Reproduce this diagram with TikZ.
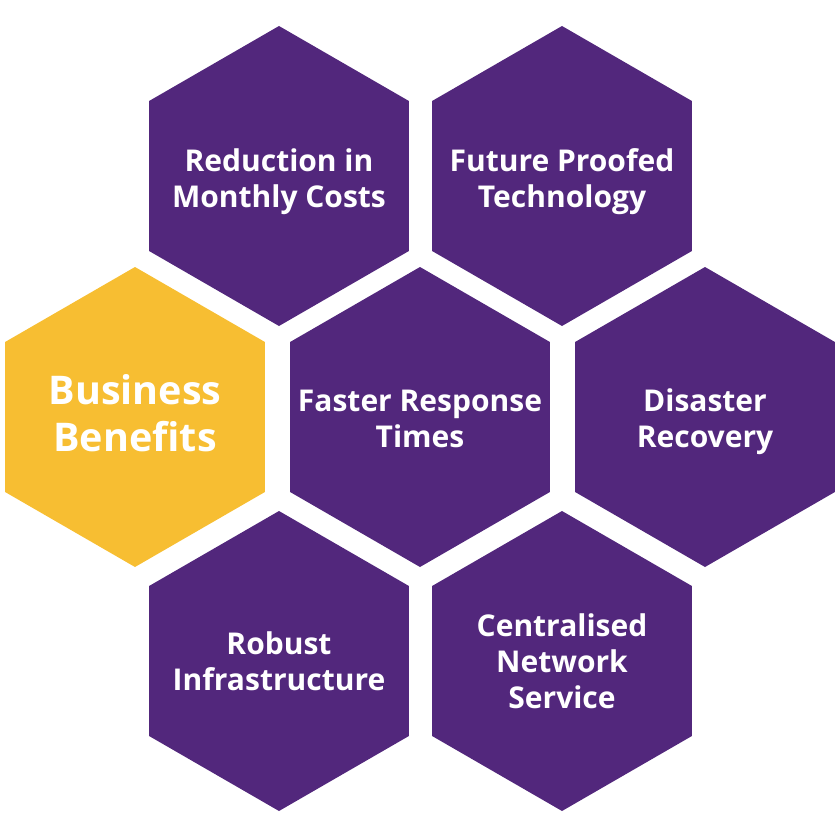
\documentclass[tikz,border=0pt]{standalone}
\usepackage{fontspec}
\setmainfont{Open Sans}[BoldFont={Open Sans Bold}]
\usetikzlibrary{shapes.geometric}
\definecolor{hexpurple}{RGB}{82,39,124}
\definecolor{hexyellow}{RGB}{247,190,50}
\tikzset{
  hexcell/.style={regular polygon, regular polygon sides=6, regular polygon rotate=30,
    minimum size=300pt, inner sep=0pt, outer sep=0pt, fill=hexpurple, draw=none},
  hexgold/.style={hexcell, fill=hexyellow},
  hextext/.style={text=white, align=center, font=\bfseries\fontsize{30}{36}\selectfont},
  bigtext/.style={text=white, align=center, font=\bfseries\fontsize{39.5}{47}\selectfont}
}
\begin{document}
\begin{tikzpicture}[x=1pt,y=-1pt]
\useasboundingbox (0,0) rectangle (840,840);
\node[hexcell] (h1) at (279,176) {};
\node[hexcell] (h2) at (562,176) {};
\node[hexgold] (h3) at (135,417) {};
\node[hexcell] (h4) at (420,417) {};
\node[hexcell] (h5) at (705,417) {};
\node[hexcell] (h6) at (279,661) {};
\node[hexcell] (h7) at (562,661) {};
\node[hextext] (t1) at ([yshift=-5.5pt]h1.center) {Reduction in\\Monthly Costs};
\node[hextext] (t2) at ([yshift=-5.5pt]h2.center) {Future Proofed\\Technology};
\node[bigtext] (t3) at ([yshift=4pt]h3.center) {Business\\Benefits};
\node[hextext] (t4) at ([yshift=-2pt]h4.center) {Faster Response\\Times};
\node[hextext] (t5) at ([yshift=-5pt]h5.center) {Disaster\\Recovery};
\node[hextext] (t6) at (h6.center) {Robust\\Infrastructure};
\node[hextext] (t7) at (h7.center) {Centralised\\Network\\Service};
\end{tikzpicture}
\end{document}
